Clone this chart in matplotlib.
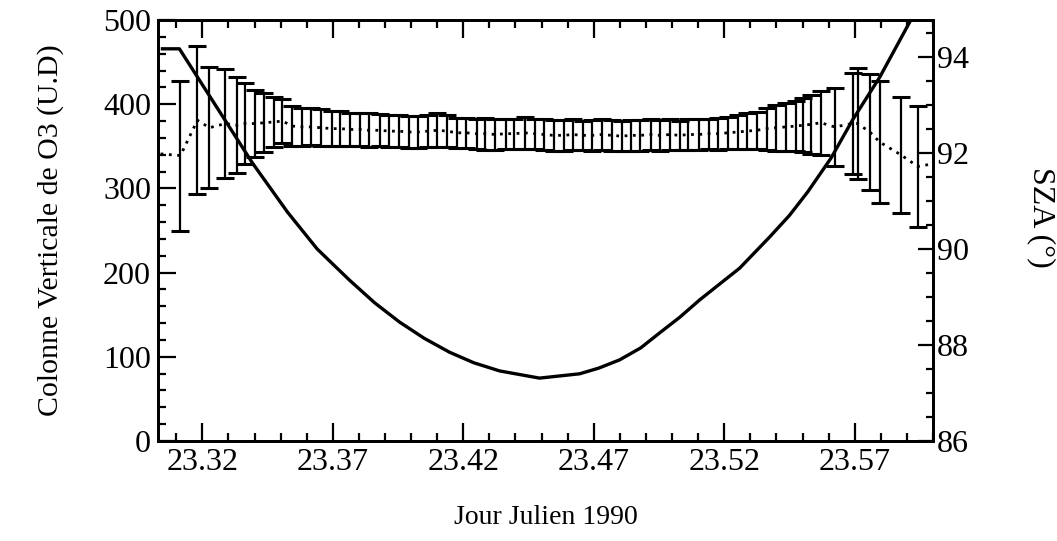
import matplotlib
matplotlib.use('Agg')
import matplotlib.pyplot as plt
from matplotlib.ticker import MultipleLocator, FixedLocator
import numpy as np

# --- data ---
# O3 vertical column measurements (error bars)
bar_day = [23.3116, 23.3181, 23.3227, 23.3288, 23.3334, 23.3365, 23.3403, 23.3438, 23.3476, 23.3507,
           23.3545, 23.3583, 23.3618, 23.3656, 23.3695, 23.3729, 23.3767, 23.3806, 23.3840, 23.3879,
           23.3917, 23.3952, 23.3990, 23.4028, 23.4063, 23.4101, 23.4139, 23.4174, 23.4212, 23.4251,
           23.4285, 23.4323, 23.4362, 23.4396, 23.4435, 23.4473, 23.4508, 23.4546, 23.4584, 23.4619,
           23.4657, 23.4695, 23.4730, 23.4768, 23.4807, 23.4841, 23.4879, 23.4918, 23.4952, 23.4991,
           23.5029, 23.5063, 23.5102, 23.5140, 23.5175, 23.5213, 23.5251, 23.5286, 23.5324, 23.5363,
           23.5397, 23.5435, 23.5474, 23.5501, 23.5531, 23.5570, 23.5623, 23.5692, 23.5711, 23.5758,
           23.5796, 23.5876, 23.5942]
bar_o3 = [339, 381, 372, 377, 375, 377, 377, 378, 379, 380,
          374, 373, 373, 372, 371, 371, 370, 370, 369, 369,
          368, 368, 367, 367, 368, 369, 368, 366, 366, 365,
          365, 364, 365, 365, 366, 365, 364, 363, 363, 364,
          363, 363, 364, 363, 362, 363, 363, 364, 363, 364,
          363, 364, 364, 365, 365, 366, 367, 368, 369, 371,
          372, 373, 374, 375, 376, 378, 373, 377, 377, 367,
          355, 340, 326]
bar_err = [89, 88, 72, 65, 57, 48, 40, 35, 30, 26,
           24, 23, 22, 22, 21, 21, 20, 20, 20, 19,
           19, 19, 19, 19, 19, 20, 19, 18, 18, 18,
           19, 18, 18, 18, 19, 18, 18, 18, 18, 18,
           17, 18, 18, 18, 18, 18, 18, 18, 18, 18,
           17, 18, 18, 18, 19, 19, 20, 21, 22, 25,
           27, 28, 30, 32, 35, 38, 46, 60, 66, 69,
           72, 69, 72]

# ends of the dotted mean curve (no error bar drawn there)
mean_start_day, mean_start_o3 = 23.3040, 341
mean_end_day, mean_end_o3 = 23.5995, 329

# solar zenith angle
sza_day = [23.3047, 23.3112, 23.3392, 23.3526, 23.3640, 23.3764, 23.3860, 23.3955, 23.4050,
           23.4147, 23.4240, 23.4339, 23.4492, 23.4646, 23.4720, 23.4799, 23.4880, 23.4952,
           23.5030, 23.5106, 23.5180, 23.5259, 23.5374, 23.5450, 23.5520, 23.5610, 23.5692,
           23.5796, 23.5919]
sza_deg = [94.17, 94.17, 91.79, 90.77, 90.00, 89.35, 88.88, 88.48, 88.14,
           87.85, 87.63, 87.46, 87.31, 87.40, 87.52, 87.69, 87.94, 88.25,
           88.58, 88.94, 89.26, 89.60, 90.25, 90.70, 91.19, 91.90, 92.69,
           93.58, 94.81]

xticks = [23.32, 23.37, 23.42, 23.47, 23.52, 23.57]
xticklabels = ['23.32', '23.37', '23.42', '23.47', '23.52', '23.57']

plt.rcParams['font.family'] = ['Liberation Serif', 'DejaVu Serif']

fig = plt.figure(figsize=(10.57, 5.41), dpi=100)
ax = fig.add_axes([158 / 1057, 100 / 541, 775 / 1057, 421 / 541])

# error bars + dotted mean
ax.errorbar(bar_day, bar_o3, yerr=bar_err, fmt='none', ecolor='black',
            elinewidth=1.6, capsize=6.5, capthick=2.2)
mean_x = [mean_start_day] + bar_day + [mean_end_day]
mean_y = [mean_start_o3] + bar_o3 + [mean_end_o3]
ax.plot(mean_x, mean_y, color='black', linestyle=(0, (1, 2)), linewidth=2)

ax.set_xlim(23.303, 23.600)
ax.set_ylim(0, 500)
ax.xaxis.set_major_locator(FixedLocator(xticks))
ax.set_xticklabels(xticklabels)
ax.xaxis.set_minor_locator(MultipleLocator(0.01))
ax.yaxis.set_major_locator(MultipleLocator(100))
ax.yaxis.set_minor_locator(MultipleLocator(20))
ax.tick_params(which='both', direction='in', top=True, right=False, width=1.6,
               labelsize=23)
ax.tick_params(which='major', length=13, pad=5)
ax.tick_params(which='minor', length=6)
for sp in ax.spines.values():
    sp.set_linewidth(2)
ax.set_xlabel('Jour Julien 1990', fontsize=20, labelpad=20)
ax.set_ylabel('Colonne Verticale de O3 (U.D)', fontsize=21.5, labelpad=28)

# SZA on right axis
ax2 = ax.twinx()
ax2.plot(sza_day, sza_deg, color='black', linewidth=2.4)
ax2.set_ylim(86, 94.77)
ax2.yaxis.set_major_locator(MultipleLocator(2))
ax2.yaxis.set_minor_locator(MultipleLocator(0.5))
ax2.tick_params(which='both', direction='in', width=1.6, labelsize=23)
ax2.tick_params(which='major', length=11, pad=3)
ax2.tick_params(which='minor', length=5)
for sp in ax2.spines.values():
    sp.set_linewidth(2)
ax2.set_ylabel('SZA (°)', fontsize=23, rotation=270, va='center')
ax2.yaxis.set_label_coords(1.14, 0.53)

fig.savefig('out.png', dpi=100)
